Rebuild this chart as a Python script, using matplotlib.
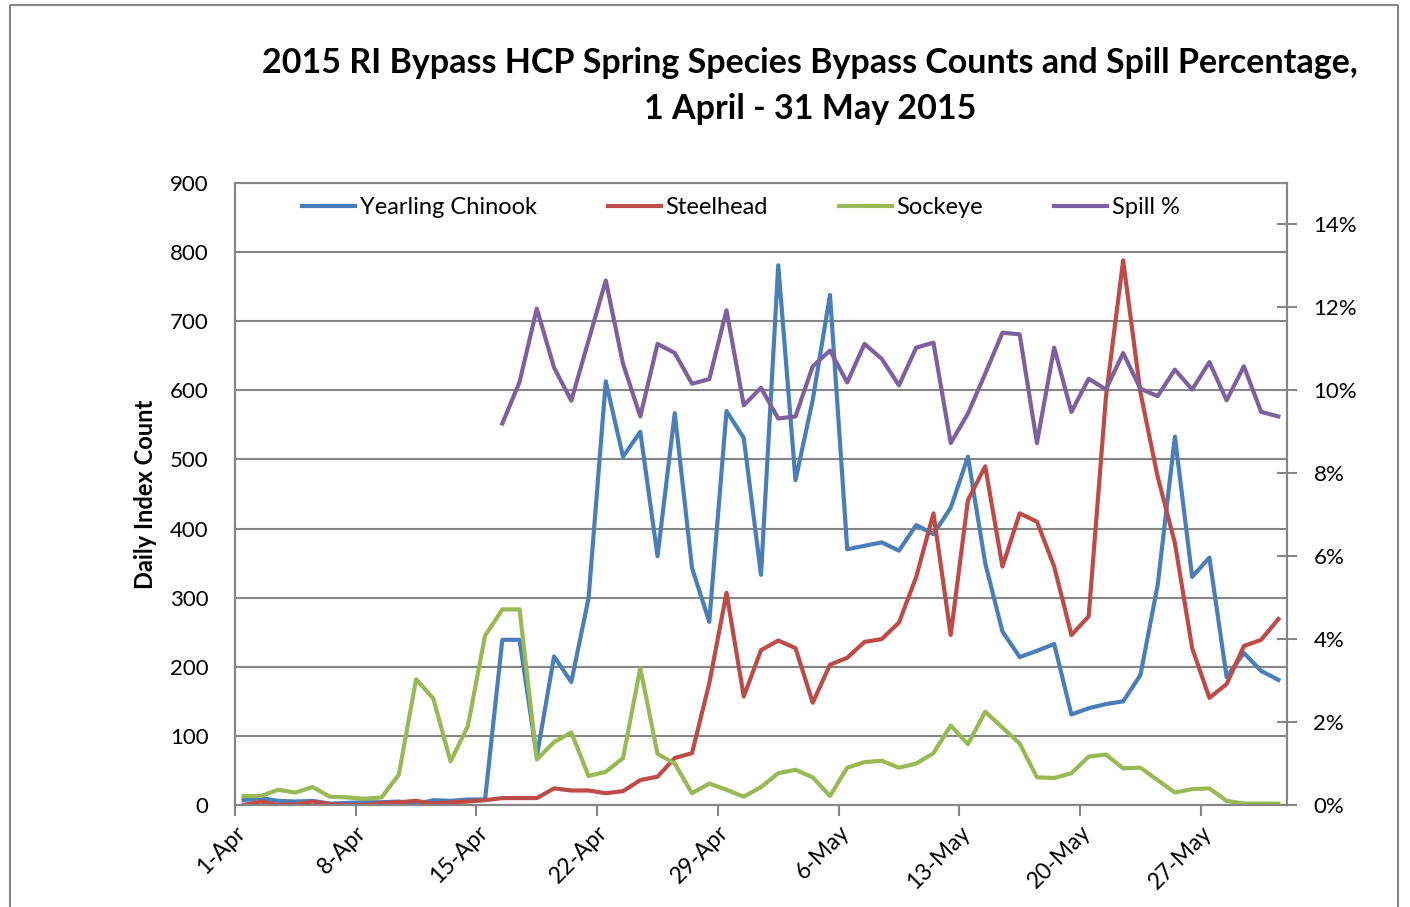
import numpy as np
import matplotlib.pyplot as plt
from matplotlib.ticker import FuncFormatter, MultipleLocator
from matplotlib.lines import Line2D

plt.rcParams['font.family'] = ['Lato', 'DejaVu Sans']

# daily values, 1 April - 31 May 2015
day_labels = ['1-Apr', '8-Apr', '15-Apr', '22-Apr', '29-Apr',
              '6-May', '13-May', '20-May', '27-May']

chinook = [7, 10, 6, 5, 6, 2, 3, 4, 4, 5, 1, 7, 6, 8, 8, 239, 239, 70, 215, 178,
           299, 613, 504, 540, 360, 567, 343, 265, 570, 531, 333, 781, 470, 586, 738,
           370, 375, 380, 368, 405, 392, 430, 504, 350, 251, 214, 223, 233, 131, 140,
           146, 150, 188, 318, 533, 330, 358, 185, 220, 194, 181]

steelhead = [0, 5, 0, 1, 5, 1, 0, 0, 3, 4, 6, 2, 4, 5, 7, 10, 10, 10, 24, 21,
             21, 17, 20, 36, 41, 68, 75, 176, 307, 157, 224, 238, 227, 148, 203,
             213, 236, 240, 264, 330, 422, 246, 441, 490, 345, 422, 410, 345, 246, 273,
             590, 788, 597, 475, 379, 227, 155, 175, 230, 239, 269]

sockeye = [13, 13, 22, 18, 26, 12, 11, 9, 11, 44, 182, 154, 63, 114, 245, 283, 283, 66, 91, 105,
           42, 48, 68, 198, 74, 60, 17, 31, 22, 12, 26, 46, 51, 40, 13,
           54, 62, 64, 54, 60, 75, 115, 88, 135, 112, 89, 40, 39, 46, 70,
           73, 53, 54, 36, 18, 23, 24, 6, 2, 2, 2]

# spill percentage starts 16-Apr
spill = [np.nan] * 15 + [
    9.2, 10.2, 11.97, 10.55, 9.75, 11.2, 12.65, 10.64, 9.37, 11.12,
    10.9, 10.16, 10.27, 11.93, 9.64, 10.06, 9.32, 9.37, 10.58, 10.96,
    10.19, 11.12, 10.76, 10.12, 11.03, 11.15, 8.73, 9.44, 10.4, 11.39,
    11.35, 8.73, 11.03, 9.48, 10.28, 10.02, 10.9, 10.04, 9.86, 10.5,
    10.02, 10.68, 9.76, 10.58, 9.48, 9.37]

days = np.arange(len(chinook))
spill = np.array(spill) / 100.0

c_blue = '#4A7EBB'
c_red = '#BE4B48'
c_green = '#98B954'
c_purple = '#7D60A0'
c_grid = '#868686'

fig = plt.figure(figsize=(14.10, 9.07), dpi=100)
ax = fig.add_axes([235 / 1410, 1 - 805 / 907, 1052 / 1410, 622 / 907])
ax2 = ax.twinx()

lw = 3.0
ax.plot(days, chinook, color=c_blue, lw=lw, label='Yearling Chinook', zorder=3)
ax.plot(days, steelhead, color=c_red, lw=lw, label='Steelhead', zorder=3)
ax.plot(days, sockeye, color=c_green, lw=lw, label='Sockeye', zorder=3)
ax2.plot(days, spill, color=c_purple, lw=lw, label='Spill %', zorder=3)

ax.set_xlim(-0.5, len(days) - 0.5)
ax.set_ylim(0, 900)
ax.yaxis.set_major_locator(MultipleLocator(100))
ax.grid(axis='y', color=c_grid, lw=1.5)
ax.set_axisbelow(True)

ax2.set_ylim(0, 0.15)
ax2.set_yticks(np.arange(0, 0.141, 0.02))
ax2.yaxis.set_major_formatter(FuncFormatter(lambda v, p: f'{v * 100:.0f}%'))

ax.set_xticks(np.arange(0, len(days), 7) - 0.5)
ax.set_xticklabels(day_labels, rotation=45, ha='right', rotation_mode='anchor')

for a in (ax, ax2):
    for s in a.spines.values():
        s.set_color(c_grid)
        s.set_linewidth(1.5)

ax.tick_params(axis='y', length=0, labelsize=16, pad=19, colors='black')
ax.tick_params(axis='x', length=8, width=1.5, color=c_grid, labelsize=16.5, pad=4)
ax2.tick_params(axis='y', direction='inout', length=14, width=1.5, color=c_grid,
                labelsize=16, pad=12)

ax.set_ylabel('Daily Index Count', fontsize=17, fontweight='bold', labelpad=9)

fig.suptitle('2015 RI Bypass HCP Spring Species Bypass Counts and Spill Percentage,\n'
             '1 April - 31 May 2015', x=810 / 1410, y=1 - 86 / 907, va='center',
             fontsize=24.5, fontweight='bold', linespacing=1.53)

handles = [Line2D([], [], color=c, lw=lw) for c in (c_blue, c_red, c_green, c_purple)]
names = ['Yearling Chinook', 'Steelhead', 'Sockeye', 'Spill %']
ax2.legend(handles, names, loc='center left',
           bbox_to_anchor=((302 - 235) / 1052, (805 - 208) / 622), ncol=4,
           frameon=False, fontsize=17, handlelength=2.25, handletextpad=0.2,
           columnspacing=3.0, borderpad=0, borderaxespad=0)

# outer chart border
fig.add_artist(plt.Line2D([10 / 1410, 10 / 1410, 1398 / 1410, 1398 / 1410],
                          [0, 1 - 5 / 907, 1 - 5 / 907, 0],
                          transform=fig.transFigure, color=c_grid, lw=1.5))

plt.savefig('out.png', dpi=100)
